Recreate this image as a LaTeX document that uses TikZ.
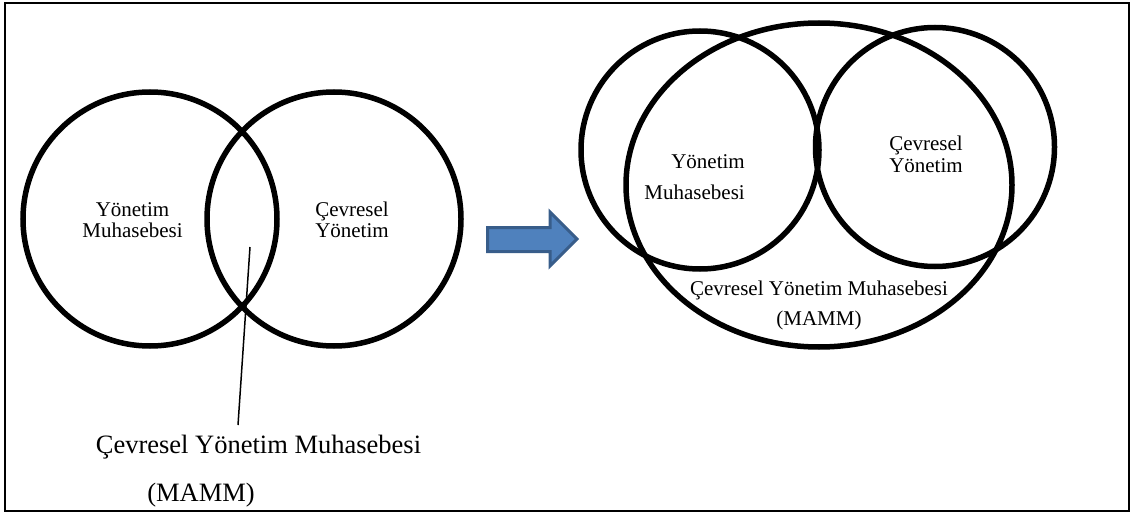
\documentclass[tikz,border=0pt]{standalone}
\usepackage{fontspec}
\setmainfont{Liberation Serif}
\usetikzlibrary{shapes.geometric}
\definecolor{arrowfill}{HTML}{4F81BD}
\definecolor{arrowedge}{HTML}{385D8A}
\begin{document}
\begin{tikzpicture}[x=1pt,y=-1pt,
  ring/.style={circle,draw,line width=5.5pt,inner sep=0pt},
  oval/.style={ellipse,draw,line width=5.5pt,inner sep=0pt},
  small/.style={font=\fontsize{21}{22}\selectfont,inner sep=0pt},
  large/.style={font=\fontsize{26.5}{28}\selectfont,inner sep=0pt}]
\useasboundingbox (0,0) rectangle (1133,516);
% outer frame
\draw[line width=2pt] (5,3.5) rectangle (1129,510.5);

% left: two overlapping circles
\node[ring,minimum size=254pt] (ym) at (150,219) {};
\node[ring,minimum size=254pt] (cy) at (334,219) {};
\node[small,anchor=base] (ym1) at (132.5,216) {Yönetim};
\node[small,anchor=base] (ym2) at (132.5,237) {Muhasebesi};
\node[small,anchor=base] (cy1) at (352,216) {Çevresel};
\node[small,anchor=base] (cy2) at (352,237) {Yönetim};

% pointer from the overlap to its label
\coordinate (lp) at (250,247);
\coordinate (lq) at (238,425);
\draw[line width=1.5pt] (lp) -- (lq);
\node[large,anchor=base] (lab1) at (258.5,453) {Çevresel Yönetim Muhasebesi};
\node[large,anchor=base] (lab2) at (201,501) {(MAMM)};

% block arrow
\draw[line width=3pt,line join=miter,draw=arrowedge,fill=arrowfill]
  (487.5,227.5) -- (550,227.5) -- (550,212) -- (577,239) -- (550,266)
  -- (550,251.5) -- (487.5,251.5) -- cycle;

% right: circles inside the larger ellipse
\node[ring,minimum size=238pt] (ym') at (700,150) {};
\node[ring,minimum size=239pt] (cy') at (935,147) {};
\node[oval,minimum width=386pt,minimum height=324pt] (mm) at (819,185) {};
\node[small,anchor=base east] (ym'1) at (745,169) {Yönetim};
\node[small,anchor=base east] (ym'2) at (745,200) {Muhasebesi};
\node[small,anchor=base] (cy'1) at (926,150) {Çevresel};
\node[small,anchor=base] (cy'2) at (926,172) {Yönetim};
\node[small,anchor=base] (mm1) at (819,295) {Çevresel Yönetim Muhasebesi};
\node[small,anchor=base] (mm2) at (819,325) {(MAMM)};
\end{tikzpicture}
\end{document}
